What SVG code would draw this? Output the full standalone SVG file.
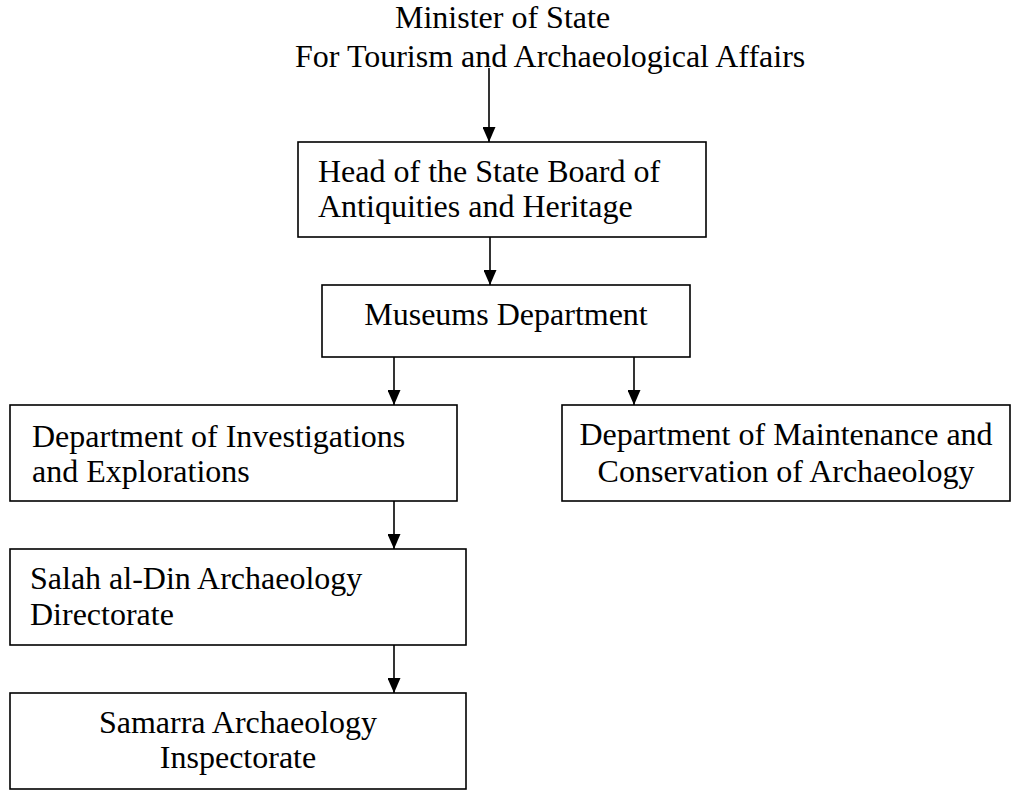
<svg xmlns="http://www.w3.org/2000/svg" width="1011" height="791" viewBox="0 0 1011 791">
<style>
text{font-family:"Liberation Serif","Times New Roman",serif;font-size:32px;fill:#000}
.box{fill:#fff;stroke:#000;stroke-width:1.6}
.conn{stroke:#000;stroke-width:1.6;fill:none}
.mid{text-anchor:middle}
</style>
<defs>
<marker id="arr" markerWidth="15" markerHeight="13" refX="15" refY="6.5" orient="auto" markerUnits="userSpaceOnUse" viewBox="0 0 15 13">
<path d="M0,0 L15,6.5 L0,13 Z" fill="#000"/>
</marker>
</defs>
<rect width="1011" height="791" fill="#fff"/>
<g id="connectors">
<path class="conn" d="M489,68 V142" marker-end="url(#arr)"/>
<path class="conn" d="M490,237 V285" marker-end="url(#arr)"/>
<path class="conn" d="M394,357 V405" marker-end="url(#arr)"/>
<path class="conn" d="M634,357 V405" marker-end="url(#arr)"/>
<path class="conn" d="M394,501 V549" marker-end="url(#arr)"/>
<path class="conn" d="M394,645 V693" marker-end="url(#arr)"/>
</g>
<g id="minister">
<text x="395" y="28">Minister of State</text>
<text x="295" y="67">For Tourism and Archaeological Affairs</text>
</g>
<g id="head">
<rect class="box" x="298" y="142" width="408" height="95"/>
<text x="318" y="182">Head of the State Board of</text>
<text x="318" y="217">Antiquities and Heritage</text>
</g>
<g id="museums">
<rect class="box" x="322" y="285" width="368" height="72"/>
<text class="mid" x="506" y="325">Museums Department</text>
</g>
<g id="investigations">
<rect class="box" x="10" y="405" width="447" height="96"/>
<text x="32" y="447">Department of Investigations</text>
<text x="32" y="482">and Explorations</text>
</g>
<g id="maintenance">
<rect class="box" x="562" y="405" width="448" height="96"/>
<text class="mid" x="786" y="445">Department of Maintenance and</text>
<text class="mid" x="786" y="482">Conservation of Archaeology</text>
</g>
<g id="salah">
<rect class="box" x="10" y="549" width="456" height="96"/>
<text x="30" y="589">Salah al-Din Archaeology</text>
<text x="30" y="625">Directorate</text>
</g>
<g id="samarra">
<rect class="box" x="10" y="693" width="456" height="96"/>
<text class="mid" x="238" y="733">Samarra Archaeology</text>
<text class="mid" x="238" y="768">Inspectorate</text>
</g>
</svg>
